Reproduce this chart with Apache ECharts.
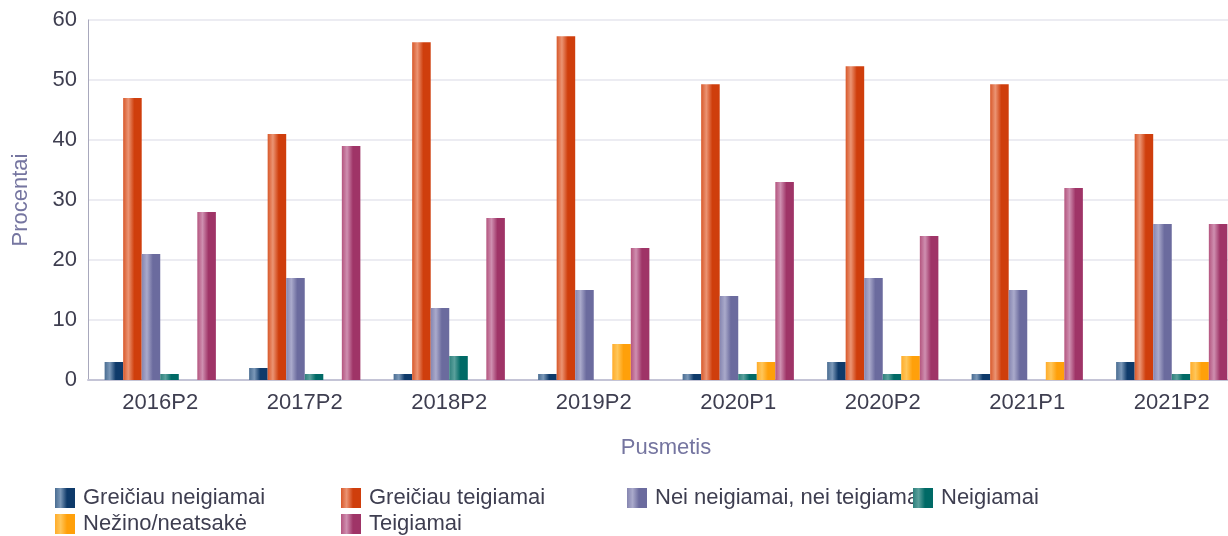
<!DOCTYPE html>
<html>
<head>
<meta charset="utf-8">
<script src="https://cdn.jsdelivr.net/npm/echarts@6/dist/echarts.min.js"></script>
<style>html,body{margin:0;padding:0;background:#fff;}#c{width:1228px;height:536px;}</style>
</head>
<body>
<div id="c"></div>
<script>
var categories = ['2016P2','2017P2','2018P2','2019P2','2020P1','2020P2','2021P1','2021P2'];
var seriesNames = ['Greičiau neigiamai','Greičiau teigiamai','Nei neigiamai, nei teigiamai','Neigiamai','Nežino/neatsakė','Teigiamai'];
var greiciauNeigiamai = [3, 2, 1, 1, 1, 3, 1, 3];
var greiciauTeigiamai = [47, 41, 56.3, 57.3, 49.3, 52.3, 49.3, 41];
var neiNeiTeig = [21, 17, 12, 15, 14, 17, 15, 26];
var neigiamai = [1, 1, 4, 0, 1, 1, 0, 1];
var nezino = [0, 0, 0, 6, 3, 4, 3, 3];
var teigiamai = [28, 39, 27, 22, 33, 24, 32, 26];
var yTicks = [0, 10, 20, 30, 40, 50, 60];

var values = [greiciauNeigiamai, greiciauTeigiamai, neiNeiTeig, neigiamai, nezino, teigiamai];
var palette = [
  ['#4a6d92', '#7b98b8', '#0e3a6a'],
  ['#d8582a', '#eb9473', '#cf3e0c'],
  ['#8585b0', '#aaaacb', '#6b6b9e'],
  ['#2e807c', '#5aa09c', '#006a66'],
  ['#ffac2a', '#ffc65a', '#ffa00a'],
  ['#b4557f', '#cf8fb0', '#9f3467']
];
function grad(p) {
  return new echarts.graphic.LinearGradient(0, 0, 1, 0, [
    {offset: 0, color: p[0]},
    {offset: 0.28, color: p[1]},
    {offset: 0.6, color: p[2]},
    {offset: 1, color: p[2]}
  ]);
}
var legendPos = [[55,487],[341,487],[627,487],[913,487],[55,513],[341,513]];
var legends = seriesNames.map(function (n, i) {
  return {
    data: [{name: n, icon: 'rect'}], left: legendPos[i][0], top: legendPos[i][1], padding: 0,
    itemWidth: 20, itemHeight: 20, selectedMode: false,
    itemStyle: {borderWidth: 0},
    textStyle: {fontSize: 22, color: '#3e3e50', fontFamily: 'Liberation Sans', padding: [0,0,0,3]}
  };
});
var chart = echarts.init(document.getElementById('c'));
chart.setOption({
  animation: false,
  backgroundColor: '#ffffff',
  legend: legends,
  grid: {left: 88, right: -16, top: 20, bottom: 156, containLabel: false, outerBoundsMode: 'none'},
  xAxis: {
    type: 'category', data: categories,
    name: 'Pusmetis', nameLocation: 'middle', nameGap: 57,
    nameTextStyle: {fontSize: 22, color: '#7575a0', fontFamily: 'Liberation Sans'},
    axisLine: {lineStyle: {color: '#c4c4d6', width: 2}},
    axisTick: {show: false},
    axisLabel: {fontSize: 22, color: '#3e3e50', margin: 12, fontFamily: 'Liberation Sans'}
  },
  yAxis: {
    type: 'value', min: yTicks[0], max: yTicks[yTicks.length - 1], interval: 10,
    name: 'Procentai', nameLocation: 'middle', nameGap: 56, nameRotate: 90,
    nameTextStyle: {fontSize: 22, color: '#7575a0', fontFamily: 'Liberation Sans'},
    axisLine: {show: true, lineStyle: {color: '#a8a8bc', width: 1}},
    axisTick: {show: false},
    axisLabel: {fontSize: 22, color: '#3e3e50', margin: 11, fontFamily: 'Liberation Sans'},
    splitLine: {lineStyle: {color: '#e6e6ee', width: 1.5}}
  },
  series: seriesNames.map(function (n, i) {
    return {
      name: n, type: 'bar', data: values[i],
      barGap: '0%', barCategoryGap: '23%',
      itemStyle: {color: grad(palette[i])}
    };
  })
});
</script>
</body>
</html>
